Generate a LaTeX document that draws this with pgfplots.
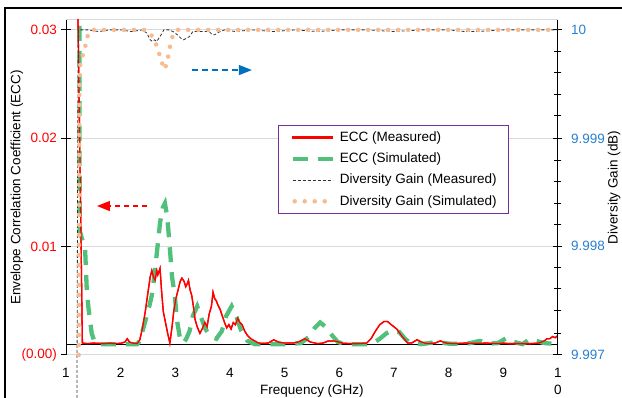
\documentclass[border=0pt]{standalone}
\usepackage{fontspec}
\setmainfont{Liberation Sans}
\usepackage{pgfplots}
\pgfplotsset{compat=1.18}
\usetikzlibrary{arrows.meta}
\definecolor{eccred}{RGB}{255,0,0}
\definecolor{eccgreen}{RGB}{80,192,122}
\definecolor{dgorange}{RGB}{246,187,144}
\definecolor{dgblack}{RGB}{50,50,50}
\definecolor{gridgray}{RGB}{217,217,217}
\definecolor{tickblue}{RGB}{40,128,208}
\definecolor{arrowblue}{RGB}{0,112,192}
\definecolor{legpurple}{RGB}{112,48,160}
\pgfplotsset{dotlegend/.style={legend image code/.code={\draw[##1] (2pt,0pt) -- (33pt,0pt);}},
  redleg/.style={legend image code/.code={\fill[fill=eccred] (0pt,-0.75pt) rectangle (40pt,0.75pt);}}}
\pgfplotstableread{
f ecc
1.213 0.0335
1.265 0.0143
1.30 0.0011
1.40 0.00105
1.50 0.0011
1.60 0.00108
1.70 0.00104
1.80 0.0011
1.90 0.00105
2.00 0.00108
2.08 0.0012
2.12 0.0015
2.16 0.0012
2.22 0.0011
2.30 0.00105
2.35 0.0014
2.40 0.0025
2.45 0.0040
2.50 0.0058
2.54 0.0072
2.57 0.0078
2.60 0.0072
2.63 0.0069
2.66 0.0078
2.68 0.0074
2.72 0.0080
2.75 0.0058
2.78 0.0040
2.82 0.0030
2.86 0.0020
2.90 0.0011
2.94 0.0026
2.97 0.0040
3.01 0.0052
3.05 0.0060
3.09 0.0068
3.12 0.0071
3.16 0.0068
3.19 0.0063
3.22 0.0066
3.24 0.0069
3.27 0.0060
3.30 0.0055
3.33 0.0045
3.36 0.0033
3.40 0.0026
3.45 0.0020
3.50 0.0025
3.54 0.0030
3.58 0.0026
3.62 0.0038
3.66 0.0045
3.69 0.0058
3.72 0.0052
3.75 0.0050
3.78 0.0046
3.82 0.0042
3.86 0.0036
3.90 0.0030
3.94 0.0025
3.98 0.0028
4.02 0.0024
4.06 0.0030
4.10 0.0028
4.14 0.0034
4.18 0.0030
4.22 0.0028
4.27 0.0022
4.32 0.0018
4.38 0.0015
4.45 0.0013
4.52 0.0011
4.60 0.00108
4.70 0.0011
4.80 0.0014
4.88 0.0012
5.00 0.0011
5.15 0.0011
5.25 0.0012
5.37 0.0015
5.47 0.0012
5.60 0.00105
5.70 0.0011
5.80 0.0013
5.92 0.0013
6.05 0.0011
6.20 0.00105
6.35 0.00105
6.50 0.0011
6.58 0.0015
6.66 0.0022
6.74 0.0028
6.82 0.0031
6.88 0.0031
6.95 0.0028
7.05 0.0024
7.15 0.0017
7.25 0.0011
7.32 0.0011
7.42 0.0014
7.50 0.0012
7.60 0.00105
7.75 0.0011
7.85 0.0013
7.95 0.0011
8.10 0.00105
8.30 0.0011
8.50 0.00108
8.70 0.0011
8.90 0.00105
9.00 0.0011
9.10 0.00105
9.30 0.00105
9.50 0.00105
9.65 0.0011
9.75 0.0013
9.80 0.0015
9.85 0.0015
9.90 0.0017
9.95 0.0016
10.0 0.0018
}\eccmeas
\begin{document}
\fontsize{13.5pt}{17pt}\selectfont
\begin{tikzpicture}[font=\fontsize{13.5pt}{17pt}\selectfont]
\useasboundingbox (0,0) rectangle (622pt,398pt);
\draw[line width=1.2pt] (5pt,-20pt) -- (5pt,390pt) -- (640pt,390pt);
\begin{axis}[
  at={(66pt,43pt)}, anchor=south west,
  width=492pt, height=335pt, scale only axis,
  xmin=1, xmax=10, ymin=0, ymax=0.03092,
  scaled y ticks=false, scaled x ticks=false,
  axis line style={draw=gridgray, line width=1pt},
  xtick={1,2,3,4,5,6,7,8,9,10},
  xticklabels={1,2,3,4,5,6,7,8,9,{1\\0}},
  xticklabel style={align=center, yshift=-4pt},
  x tick style={draw=none},
  ytick={0,0.01,0.02,0.03},
  yticklabels={(0.00),0.01,0.02,0.03},
  yticklabel style={text=eccred},
  xtick pos=left, ytick pos=left,
  y tick style={black, line width=1pt},
  tick align=center, major tick length=9pt,
  ymajorgrids, grid style={gridgray, line width=1pt},
  xlabel={Frequency (GHz)},
  ylabel={Envelope Correlation Coefficient (ECC)},
  xlabel style={at={(axis description cs:0.5,0)}, anchor=center, yshift=-36pt},
  ylabel style={at={(axis description cs:-0.0996,0.5)}, anchor=center},
  clip=true,
  legend image code/.code={\draw[#1] (0pt,0pt) -- (40pt,0pt);},
  legend cell align=left,
  legend style={at={(axis description cs:0.431,0.6866)}, anchor=north west,
    draw=legpurple, line width=1pt, fill=white, inner xsep=12pt, inner ysep=6pt,
    row sep=9.5pt, nodes={inner sep=0pt},
    /tikz/every odd column/.style={column sep=5pt}},
]
\draw[black, line width=1pt] (axis cs:1,0.001) -- (axis cs:10,0.001);
\addplot[color=eccred, draw=eccred, line width=1.3pt, redleg] table[x=f, y=ecc] {\eccmeas};
\addlegendentry{ECC (Measured)}
\addplot[eccgreen, line width=4.3pt, dash pattern=on 15pt off 10pt] table {
1.245 0.035
1.25 0.0115
1.35 0.0097
1.38 0.0060
1.41 0.0044
1.47 0.0020
1.53 0.0011
1.60 0.0010
2.00 0.0010
2.30 0.0010
2.35 0.0013
2.41 0.0024
2.50 0.0040
2.57 0.0055
2.62 0.0075
2.67 0.0098
2.72 0.0122
2.77 0.0136
2.81 0.0140
2.85 0.0128
2.89 0.0105
2.94 0.0072
2.99 0.0055
3.03 0.0032
3.09 0.0014
3.15 0.0011
3.20 0.0015
3.26 0.0022
3.32 0.0036
3.40 0.0045
3.47 0.0035
3.55 0.0024
3.65 0.0017
3.75 0.0015
3.85 0.0022
3.93 0.0036
4.03 0.0045
4.12 0.0035
4.20 0.0023
4.32 0.0013
4.45 0.0010
5.00 0.0010
5.30 0.0011
5.45 0.0017
5.55 0.0025
5.65 0.0030
5.75 0.0026
5.87 0.0018
5.97 0.0012
6.10 0.0010
6.50 0.0010
6.62 0.0011
6.74 0.0015
6.86 0.0020
6.98 0.0023
7.10 0.0021
7.20 0.0015
7.30 0.0011
7.50 0.0010
7.78 0.0012
8.00 0.00105
8.30 0.0010
8.57 0.0013
8.75 0.00105
8.90 0.0011
9.07 0.0016
9.20 0.0012
9.35 0.0010
9.49 0.0015
9.60 0.0013
9.75 0.0011
10.0 0.0010
};
\addlegendentry{ECC (Simulated)}
\addplot[eccred, line width=1.3pt, forget plot] table[x=f, y=ecc] {\eccmeas};
\addlegendimage{dgblack, line width=0.8pt, dash pattern=on 3pt off 2pt}
\addlegendentry{Diversity Gain (Measured)}
\addlegendimage{dgorange, line width=4.5pt, line cap=round, dash pattern=on 0pt off 10pt, dotlegend}
\addlegendentry{Diversity Gain (Simulated)}
\draw[black, line width=1pt] (rel axis cs:0,0) -- (rel axis cs:0,1);
\draw[eccred, line width=1.4pt, dash pattern=on 5pt off 4pt, -{Triangle[length=13pt,width=10pt]}] (axis cs:2.48,0.01375) -- (axis cs:1.567,0.01375);
\draw[arrowblue, line width=1.4pt, dash pattern=on 6pt off 4pt, -{Triangle[length=13pt,width=10pt]}] (axis cs:3.30,0.0263) -- (axis cs:4.40,0.0263);
\end{axis}
\begin{axis}[
  at={(66pt,43pt)}, anchor=south west,
  width=492pt, height=335pt, scale only axis,
  y coord trafo/.code={\begingroup\pgfkeys{/pgf/fpu=false}\pgfmathparse{#1*1000-9997}\xdef\dgres{\pgfmathresult}\endgroup\let\pgfmathresult\dgres},
  xmin=1, xmax=10, ymin=9.997, ymax=10.0000925,
  scaled y ticks=false,
  axis x line=none, axis y line*=right,
  y axis line style={black, line width=1pt},
  ytick={9.997,9.998,9.999,10},
  yticklabels={9.997,9.998,9.999,10},
  minor ytick={9.9972,9.9974,9.9976,9.9978,9.9982,9.9984,9.9986,9.9988,9.9992,9.9994,9.9996,9.9998},
  yticklabel style={text=tickblue, xshift=4pt},
  tick style={black, line width=1pt},
  tick align=center, major tick length=9pt, minor tick length=7pt,
  ylabel={Diversity Gain (dB)},
  ylabel style={at={(axis description cs:1.114,0.5)}, anchor=center},
  clip=false,
]
\addplot[dgblack, line width=0.8pt, dash pattern=on 3pt off 2pt] table {
1.20 9.9966
1.215 9.9990
1.225 10.0
1.40 10.0
1.60 9.99999
1.80 10.0
2.00 10.0
2.20 9.99999
2.40 10.0
2.48 9.99997
2.54 9.99991
2.58 9.99990
2.62 9.99991
2.66 9.99989
2.70 9.99993
2.74 9.99996
2.79 10.0
2.88 10.0
2.96 9.99998
3.04 9.99995
3.10 9.99992
3.15 9.99991
3.21 9.99993
3.26 9.99994
3.32 9.99998
3.40 9.99999
3.47 9.99998
3.55 9.99999
3.62 9.99998
3.68 9.99995
3.72 9.99995
3.76 9.99997
3.82 9.99998
3.90 10.0
4.10 9.99999
4.40 10.0
4.80 9.99999
5.20 10.0
5.60 9.99999
6.00 10.0
6.50 10.0
7.00 9.99999
7.50 10.0
8.00 10.0
8.30 9.99998
8.50 9.99999
9.00 10.0
9.50 10.0
10.0 10.0
};
\addplot[dgorange, line width=4.5pt, line cap=round, dash pattern=on 0pt off 10pt] table {
1.232 9.997
1.245 9.99940
1.255 9.99966
1.29 9.99974
1.35 9.99983
1.375 9.99992
1.46 10.0
2.45 10.0
2.54 9.99997
2.63 9.99990
2.68 9.99982
2.74 9.99972
2.79 9.99963
2.84 9.99968
2.88 9.99979
2.92 9.99989
2.98 9.99998
3.05 10.0
10.0 10.0
};
\end{axis}
\end{tikzpicture}
\end{document}
